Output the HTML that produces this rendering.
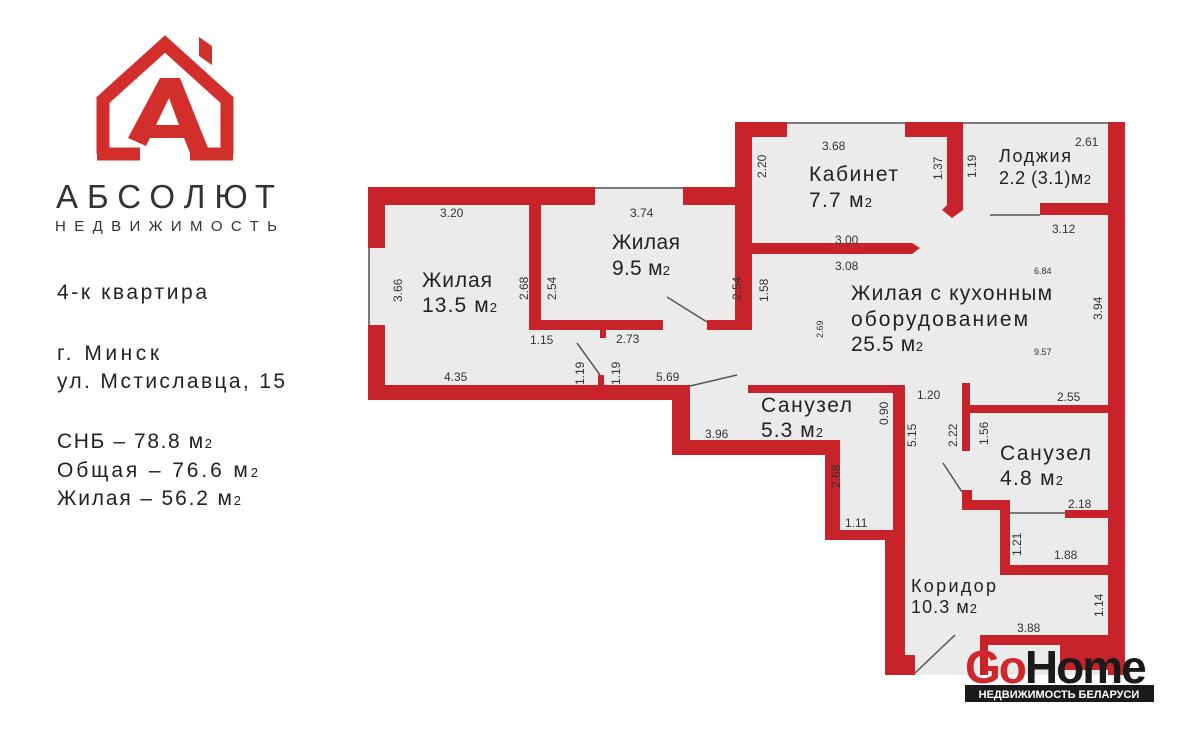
<!DOCTYPE html>
<html><head><meta charset="utf-8"><style>
body{margin:0;background:#fff;width:1200px;height:729px;overflow:hidden;font-family:"Liberation Sans",sans-serif}
svg{position:absolute;left:0;top:0}
</style></head><body>
<svg width="1200" height="729" viewBox="0 0 1200 729" font-family="Liberation Sans, sans-serif">
<g fill="none" stroke="#d22f2c" stroke-width="13">
<path d="M103,154 L103,100 L165,44 L227,100 L227,154"/>
<path d="M97,154 L140,154 M190,154 L233,154"/>
</g>
<path d="M199,37 L212,46 L212,65 L199,56 Z" fill="#d22f2c"/>
<path d="M128,138 L160,78 L180,78 L212,158 L192,158 L184,138 L150,138 L146,146 Z M156,125 L179,125 L169,98 Z" fill="#d22f2c" fill-rule="evenodd"/>
<text x="56" y="208" font-size="33" fill="#333" textLength="219" lengthAdjust="spacing">АБСОЛЮТ</text>
<text x="55" y="231" font-size="15" fill="#333" textLength="222" lengthAdjust="spacing">НЕДВИЖИМОСТЬ</text>
<g font-size="21" fill="#222" lengthAdjust="spacing">
<text x="57" y="299" textLength="150">4-к квартира</text>
<text x="57" y="360" textLength="102">г. Минск</text>
<text x="57" y="388" textLength="228">ул. Мстиславца, 15</text>
<text x="57" y="448" textLength="155">СНБ – 78.8 м<tspan font-size="13">2</tspan></text>
<text x="57" y="477" textLength="201">Общая –  76.6 м<tspan font-size="13">2</tspan></text>
<text x="57" y="505" textLength="184">Жилая – 56.2 м<tspan font-size="13">2</tspan></text>
</g>
<path d="M368,187 L735,187 L735,122 L1122,122 L1122,675 L885,675 L885,540 L825,540 L825,455 L672,455 L672,400 L368,400 Z" fill="#ebebeb"/>
<g fill="#c8232a">
<rect x="368" y="187" width="227" height="18"/>
<rect x="683" y="187" width="69" height="18"/>
<rect x="368" y="187" width="17" height="61"/>
<rect x="368" y="325" width="17" height="75"/>
<rect x="368" y="385" width="322" height="15"/>
<rect x="529" y="205" width="12" height="125"/>
<rect x="529" y="320" width="134" height="10"/>
<rect x="707" y="320" width="45" height="10"/>
<rect x="740" y="205" width="12" height="125"/>
<rect x="600" y="330" width="6" height="8"/>
<rect x="598" y="375" width="6" height="12"/>
<rect x="735" y="122" width="17" height="208"/>
<rect x="735" y="122" width="52" height="15"/>
<rect x="905" y="122" width="58" height="15"/>
<path d="M947,122 L963,122 L963,210 L952,218 L942,210 L947,205 Z"/>
<path d="M752,243 L912,243 L920,248 L912,254 L752,254 Z"/>
<rect x="1108" y="122" width="17" height="553"/>
<rect x="1040" y="203" width="70" height="12"/>
<rect x="748" y="385" width="157" height="8"/>
<rect x="893" y="385" width="12" height="147"/>
<rect x="672" y="390" width="18" height="65"/>
<rect x="672" y="440" width="168" height="15"/>
<rect x="825" y="440" width="15" height="100"/>
<rect x="825" y="530" width="80" height="10"/>
<rect x="885" y="530" width="20" height="145"/>
<rect x="885" y="655" width="30" height="20"/>
<rect x="962" y="383" width="8" height="68"/>
<rect x="962" y="405" width="146" height="8"/>
<rect x="962" y="490" width="10" height="20"/>
<rect x="962" y="500" width="48" height="10"/>
<rect x="1000" y="500" width="10" height="75"/>
<rect x="1000" y="565" width="108" height="10"/>
<rect x="1065" y="510" width="43" height="8"/>
<rect x="980" y="635" width="128" height="10"/>
<rect x="980" y="635" width="8" height="40"/>
<rect x="1060" y="645" width="48" height="25"/>
</g>
<g stroke="#555" stroke-width="1.5" fill="none">
<line x1="595" y1="188" x2="683" y2="188"/>
<line x1="787" y1="123" x2="905" y2="123"/>
<line x1="963" y1="123" x2="1108" y2="123"/>
<line x1="369" y1="248" x2="369" y2="325"/>
<line x1="667" y1="297" x2="707" y2="322"/>
<line x1="577" y1="343" x2="600" y2="375"/>
<line x1="690" y1="386" x2="737" y2="375"/>
<line x1="990" y1="215" x2="1040" y2="215"/>
<line x1="943" y1="463" x2="962" y2="492"/>
<line x1="1010" y1="513" x2="1065" y2="513"/>
<line x1="915" y1="673" x2="955" y2="635"/>
</g>
<g fill="#222" font-size="21" lengthAdjust="spacing">
<text x="422" y="287" textLength="70">Жилая</text>
<text x="422" y="312" textLength="75">13.5 м<tspan font-size="13">2</tspan></text>
<text x="612" y="249" textLength="68">Жилая</text>
<text x="612" y="275" textLength="58">9.5 м<tspan font-size="13">2</tspan></text>
<text x="809" y="181" textLength="89">Кабинет</text>
<text x="809" y="207" textLength="63">7.7 м<tspan font-size="13">2</tspan></text>
<text x="999" y="162" font-size="18" textLength="72">Лоджия</text>
<text x="999" y="184" font-size="18" textLength="92">2.2 (3.1)м<tspan font-size="13">2</tspan></text>
<text x="851" y="300" textLength="201">Жилая с кухонным</text>
<text x="851" y="326" textLength="177">оборудованием</text>
<text x="851" y="351" textLength="72">25.5 м<tspan font-size="13">2</tspan></text>
<text x="761" y="412" textLength="91">Санузел</text>
<text x="761" y="437" textLength="62">5.3 м<tspan font-size="13">2</tspan></text>
<text x="1000" y="460" textLength="91">Санузел</text>
<text x="1000" y="485" textLength="63">4.8 м<tspan font-size="13">2</tspan></text>
<text x="911" y="592" font-size="18" textLength="85">Коридор</text>
<text x="911" y="613" font-size="18" textLength="66">10.3 м<tspan font-size="13">2</tspan></text>
</g>
<g fill="#333" font-size="12">
<text x="440" y="217">3.20</text>
<text x="630" y="217">3.74</text>
<text x="822" y="150">3.68</text>
<text x="1075" y="146">2.61</text>
<text x="1052" y="233">3.12</text>
<text x="835" y="244">3.00</text>
<text x="835" y="270">3.08</text>
<text x="1034" y="274" font-size="9">6.84</text>
<text x="1034" y="355" font-size="9">9.57</text>
<text x="530" y="344">1.15</text>
<text x="616" y="343">2.73</text>
<text x="444" y="381">4.35</text>
<text x="656" y="381">5.69</text>
<text x="917" y="399">1.20</text>
<text x="1057" y="401">2.55</text>
<text x="705" y="438">3.96</text>
<text x="845" y="527">1.11</text>
<text x="1068" y="508">2.18</text>
<text x="1054" y="559">1.88</text>
<text x="1017" y="632">3.88</text>
</g>
<g fill="#333" font-size="12">
<text transform="translate(402,302) rotate(-90)">3.66</text>
<text transform="translate(528,300) rotate(-90)">2.68</text>
<text transform="translate(556,300) rotate(-90)">2.54</text>
<text transform="translate(741,300) rotate(-90)">2.54</text>
<text transform="translate(768,302) rotate(-90)">1.58</text>
<text transform="translate(766,178) rotate(-90)">2.20</text>
<text transform="translate(942,180) rotate(-90)">1.37</text>
<text transform="translate(976,178) rotate(-90)">1.19</text>
<text transform="translate(1102,320) rotate(-90)">3.94</text>
<text transform="translate(823,338) rotate(-90)" font-size="9">2.69</text>
<text transform="translate(584,385) rotate(-90)">1.19</text>
<text transform="translate(620,385) rotate(-90)">1.19</text>
<text transform="translate(888,425) rotate(-90)">0.90</text>
<text transform="translate(916,447) rotate(-90)">5.15</text>
<text transform="translate(957,447) rotate(-90)">2.22</text>
<text transform="translate(988,445) rotate(-90)">1.56</text>
<text transform="translate(840,488) rotate(-90)">2.68</text>
<text transform="translate(1021,556) rotate(-90)">1.21</text>
<text transform="translate(1103,617) rotate(-90)">1.14</text>
</g>
<text x="965" y="683" font-size="46" font-weight="bold" letter-spacing="-2"><tspan fill="#d0262c">Go</tspan><tspan fill="#1a1a1a">Home</tspan></text>
<rect x="965" y="685" width="189" height="17" fill="#1a1a1a"/>
<text x="1059" y="698" font-size="11" font-weight="bold" fill="#fff" text-anchor="middle">НЕДВИЖИМОСТЬ БЕЛАРУСИ</text>
</svg>
</body></html>
